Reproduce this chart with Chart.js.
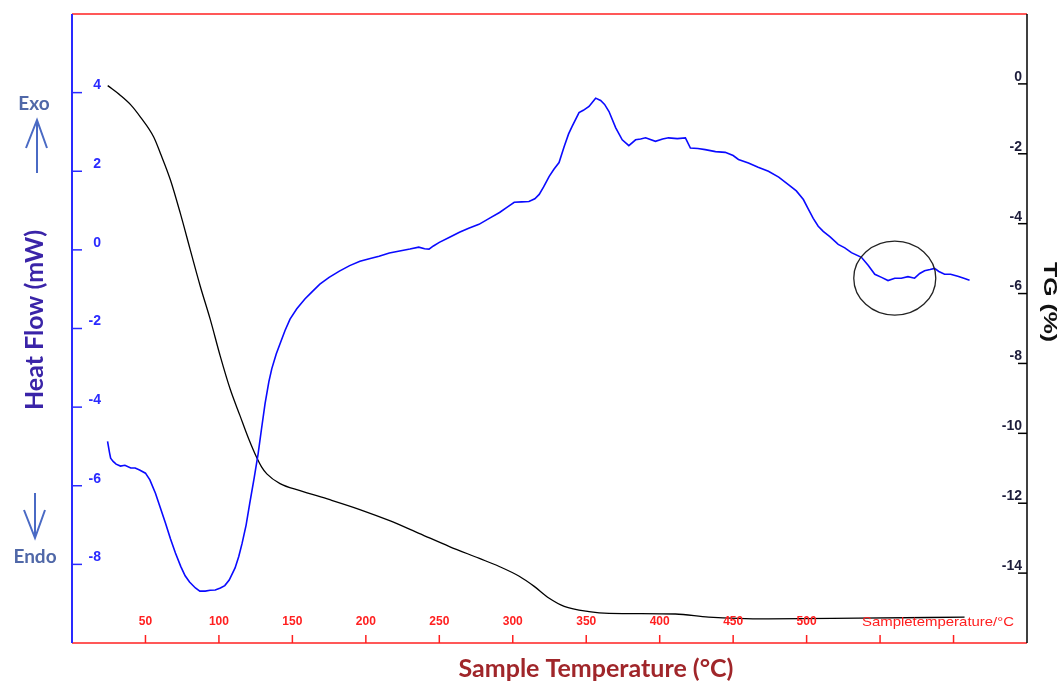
<!DOCTYPE html>
<html>
<head>
<meta charset="utf-8">
<script src="https://cdn.jsdelivr.net/npm/chart.js@4/dist/chart.umd.min.js"></script>
<style>
  html, body { margin: 0; padding: 0; background: #fff; }
  #wrap { width: 1062px; height: 686px; }
</style>
</head>
<body>
<div id="wrap"><canvas id="dsc" width="1062" height="686"></canvas></div>
<script>
// DSC curve (heat flow, mW) vs sample temperature
var dscTemp = [24.2, 25.5, 26.3, 28, 30, 33, 36, 40, 43, 46, 50, 53, 56.8, 60, 63.6, 67, 70.4, 74, 77, 80,
    84, 87, 90.7, 94, 97.5, 101, 104, 107, 111, 113.5, 115.8, 118.5, 121, 124, 126.7, 129, 131.4, 134, 136, 139,
    141.6, 145, 148.4, 153, 158.5, 163, 168.7, 175, 182, 189, 196, 203, 209, 216, 223, 230, 236, 240, 243, 246,
    250, 257, 263.7, 270, 277, 284, 291, 296, 301, 306, 311, 315, 318, 321, 324.8, 328, 331.5, 335, 338, 340.4,
    345.1, 348, 351.9, 356.4, 359.8, 362.5, 365.5, 370, 374.5, 379, 383.6, 387, 390.4, 397.1, 402, 406, 412, 417.5, 420.9, 426,
    431, 438, 444.6, 450, 453.6, 460.4, 467, 474, 481, 487.6, 493, 497.8, 501, 504.5, 507.9, 511.3, 516, 521.5, 526, 530.5,
    537.3, 542, 546.4, 551, 555.4, 560, 564.4, 569, 573.5, 577, 580.3, 584, 587.1, 590, 593.9, 598, 602.9, 607, 610.9];
var dscHeat = [-4.87, -5.15, -5.30, -5.38, -5.45, -5.50, -5.48, -5.55, -5.55, -5.60, -5.68, -5.85, -6.19, -6.55, -6.95, -7.35, -7.71, -8.05, -8.29, -8.45,
    -8.60, -8.68, -8.68, -8.66, -8.65, -8.60, -8.54, -8.40, -8.09, -7.80, -7.46, -7.00, -6.44, -5.80, -5.18, -4.55, -3.91, -3.35, -3.02, -2.65,
    -2.39, -2.05, -1.76, -1.50, -1.25, -1.08, -0.87, -0.70, -0.54, -0.40, -0.29, -0.22, -0.16, -0.08, -0.03, 0.02, 0.07, 0.03, 0.02, 0.10,
    0.19, 0.32, 0.45, 0.55, 0.65, 0.80, 0.95, 1.08, 1.21, 1.22, 1.23, 1.30, 1.41, 1.60, 1.87, 2.05, 2.22, 2.63, 2.95, 3.14,
    3.49, 3.55, 3.65, 3.86, 3.80, 3.70, 3.52, 3.11, 2.80, 2.65, 2.80, 2.82, 2.85, 2.76, 2.82, 2.85, 2.83, 2.85, 2.59, 2.58,
    2.55, 2.50, 2.48, 2.40, 2.30, 2.21, 2.10, 2.00, 1.85, 1.66, 1.50, 1.28, 1.05, 0.80, 0.60, 0.47, 0.33, 0.14, 0.05, -0.07,
    -0.19, -0.40, -0.62, -0.70, -0.78, -0.72, -0.72, -0.68, -0.72, -0.60, -0.53, -0.50, -0.47, -0.55, -0.62, -0.62, -0.67, -0.72, -0.77];

// TG curve (mass change, %)
var tgTemp = [24.3, 33, 40, 46.6, 55.6, 60.2, 67, 73.7, 80.5, 87.3, 94.1, 100.9, 107.7, 114.4, 120.1, 125.8, 129, 132.6, 141.6,
    155.2, 175.5, 195.9, 216.2, 236.6, 256.9, 277.3, 290.8, 304.4, 314.6, 324.8, 335, 351.9, 365.5, 410.7, 433.3, 474, 535, 607.5];
var tgMass = [-0.05, -0.33, -0.60, -0.95, -1.52, -1.99, -2.75, -3.70, -4.75, -5.79, -6.74, -7.79, -8.74, -9.50, -10.14, -10.70, -10.96, -11.16, -11.44,
    -11.64, -11.90, -12.18, -12.50, -12.87, -13.24, -13.58, -13.81, -14.09, -14.38, -14.72, -14.95, -15.10, -15.15, -15.17, -15.26, -15.31, -15.29, -15.26];

// tick labels
var tempTicks = [50, 100, 150, 200, 250, 300, 350, 400, 450, 500, 550, 600];
var tempLabels = ['50', '100', '150', '200', '250', '300', '350', '400', '450', '500', '', ''];
var heatTicks = [-8, -6, -4, -2, 0, 2, 4];
var tgTicks = [-14, -12, -10, -8, -6, -4, -2, 0];

// marked region (circle)
var circleTemp = 560;
var circleHeat = -0.72;

function toPoints(xs, ys) {
    return xs.map(function (v, i) { return {x: v, y: ys[i]}; });
}

function line(ctx, x1, y1, x2, y2, color, w) {
    ctx.beginPath();
    ctx.strokeStyle = color;
    ctx.lineWidth = w;
    ctx.moveTo(x1, y1);
    ctx.lineTo(x2, y2);
    ctx.stroke();
}

function arrow(ctx, x, yFrom, yTo, color) {
    var dir = yTo < yFrom ? 1 : -1;
    line(ctx, x, yFrom, x, yTo, color, 2);
    ctx.beginPath();
    ctx.moveTo(x - 11, yTo + dir * 28);
    ctx.lineTo(x, yTo);
    ctx.lineTo(x + 10, yTo + dir * 28);
    ctx.stroke();
}

// draws text stretched along its direction to a given length
function fitText(ctx, txt, x, y, len) {
    var w = ctx.measureText(txt).width;
    ctx.save();
    ctx.translate(x, y);
    ctx.scale(len / w, 1);
    ctx.fillText(txt, 0, 0);
    ctx.restore();
}

var decor = {
    id: 'decor',
    afterDraw: function (chart) {
        var ctx = chart.ctx, a = chart.chartArea;
        var sx = chart.scales.x, sl = chart.scales.y, sr = chart.scales.y2;
        ctx.save();

        // frame
        line(ctx, a.left, a.top, a.right, a.top, '#ff2020', 1.5);
        line(ctx, a.left, a.bottom, a.right, a.bottom, '#ff2020', 1.5);
        line(ctx, a.left, a.top, a.left, a.bottom, '#2a2aff', 2);
        line(ctx, a.right, a.top, a.right, a.bottom, '#000', 1.5);

        // x ticks
        ctx.font = 'bold 12px "Liberation Sans", Arial';
        ctx.fillStyle = '#ff2020';
        ctx.textAlign = 'center';
        ctx.textBaseline = 'middle';
        tempTicks.forEach(function (t, i) {
            var px = sx.getPixelForValue(t);
            line(ctx, px, a.bottom - 8, px, a.bottom, '#ff2020', 1.5);
            if (tempLabels[i]) ctx.fillText(tempLabels[i], px, a.bottom - 21);
        });
        ctx.textAlign = 'left';
        ctx.font = '13px "Liberation Sans", Arial';
        fitText(ctx, 'Sampletemperature/\u00b0C', 862, a.bottom - 21, 152);

        // left ticks
        ctx.font = 'bold 14px "Liberation Sans", Arial';
        ctx.fillStyle = '#2a2aff';
        ctx.textAlign = 'right';
        heatTicks.forEach(function (t) {
            var py = sl.getPixelForValue(t);
            line(ctx, a.left, py, a.left + 10, py, '#2a2aff', 1.5);
            ctx.fillText(String(t), a.left + 29, py - 7);
        });

        // right ticks
        ctx.fillStyle = '#1c1c3a';
        tgTicks.forEach(function (t) {
            var py = sr.getPixelForValue(t);
            line(ctx, a.right - 9, py, a.right, py, '#000', 1.5);
            ctx.fillText(String(t), a.right - 5, py - 7);
        });

        // axis titles
        ctx.textAlign = 'center';
        ctx.font = 'bold 25px Lato, "Open Sans", sans-serif';
        ctx.fillStyle = '#a0262a';
        ctx.fillText('Sample Temperature (\u00b0C)', 596, 669);

        ctx.save();
        ctx.translate(35, 320);
        ctx.rotate(-Math.PI / 2);
        ctx.fillStyle = '#3a24a8';
        ctx.fillText('Heat Flow (mW)', 0, 0);
        ctx.restore();

        ctx.save();
        ctx.translate(1049, 302);
        ctx.rotate(Math.PI / 2);
        ctx.font = 'bold 19px "Liberation Sans", Arial';
        ctx.fillStyle = '#111';
        fitText(ctx, 'TG (%)', 0, 0, 80);
        ctx.restore();

        // exo / endo
        ctx.font = 'bold 19px Lato, "Open Sans", sans-serif';
        ctx.fillStyle = '#5068a8';
        ctx.fillText('Exo', 34, 104);
        ctx.fillText('Endo', 35, 557);
        arrow(ctx, 37, 173, 120, '#4a6ac4');
        arrow(ctx, 35, 493, 538, '#4a6ac4');

        // circle around the small event
        var cx = sx.getPixelForValue(circleTemp), cy = sl.getPixelForValue(circleHeat);
        ctx.beginPath();
        ctx.strokeStyle = '#222';
        ctx.lineWidth = 1.3;
        ctx.ellipse(cx, cy, 41, 37, 0, 0, Math.PI * 2);
        ctx.stroke();

        ctx.restore();
    }
};

new Chart(document.getElementById('dsc'), {
    type: 'line',
    data: {
        datasets: [
            {
                data: toPoints(dscTemp, dscHeat),
                yAxisID: 'y',
                borderColor: '#0a0aff',
                borderWidth: 1.6,
                pointRadius: 0,
                tension: 0
            },
            {
                data: toPoints(tgTemp, tgMass),
                yAxisID: 'y2',
                borderColor: '#000',
                borderWidth: 1.3,
                pointRadius: 0,
                cubicInterpolationMode: 'monotone'
            }
        ]
    },
    options: {
        responsive: false,
        animation: false,
        layout: {padding: {left: 72, right: 35, top: 14, bottom: 43}},
        plugins: {legend: {display: false}, tooltip: {enabled: false}},
        scales: {
            x: {type: 'linear', min: 0, max: 650, display: false},
            y: {type: 'linear', position: 'left', min: -10, max: 6, display: false},
            y2: {type: 'linear', position: 'right', min: -16, max: 2, display: false}
        }
    },
    plugins: [decor]
});
</script>
</body>
</html>
